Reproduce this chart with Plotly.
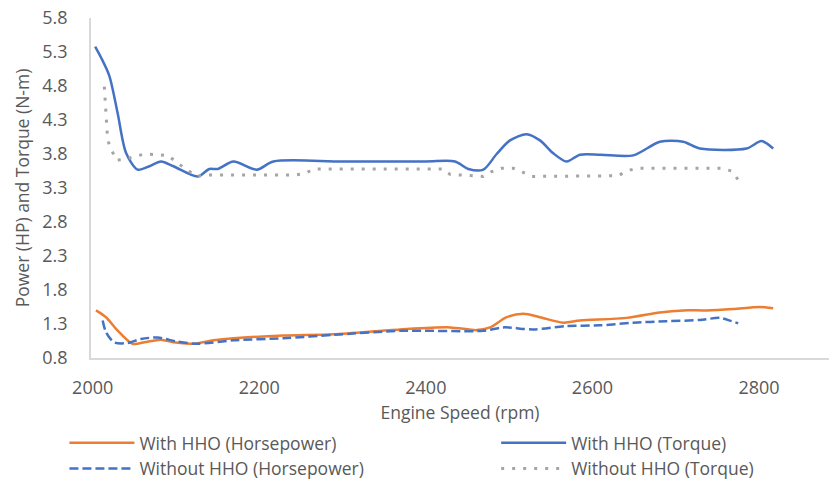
import plotly.graph_objects as go

# ---- data ----
rpm_hp_with = [2004, 2016, 2028, 2048, 2062, 2082, 2097, 2121, 2145, 2169, 2229, 2289, 2369,
               2429, 2461, 2477, 2497, 2517, 2537, 2565, 2585, 2641, 2681, 2709, 2737, 2769, 2801, 2817]
hp_with = [1.50, 1.40, 1.23, 1.01, 1.03, 1.07, 1.03, 1.01, 1.06, 1.09, 1.13, 1.15, 1.22,
           1.25, 1.21, 1.25, 1.40, 1.45, 1.40, 1.32, 1.35, 1.39, 1.47, 1.50, 1.50, 1.52, 1.55, 1.53]

rpm_tq_with = [2003, 2010, 2020, 2030, 2040, 2054, 2068, 2082, 2097, 2126, 2140, 2150, 2169, 2197,
               2217, 2300, 2400, 2435, 2451, 2469, 2485, 2501, 2521, 2537, 2553, 2569, 2585, 2610,
               2649, 2681, 2709, 2729, 2785, 2803, 2817]
tq_with = [5.38, 5.22, 4.95, 4.40, 3.82, 3.57, 3.62, 3.69, 3.62, 3.47, 3.58, 3.58, 3.69, 3.57,
           3.69, 3.69, 3.69, 3.69, 3.58, 3.57, 3.80, 4.00, 4.09, 4.00, 3.81, 3.69, 3.79, 3.79,
           3.78, 3.98, 3.98, 3.88, 3.88, 3.99, 3.88]

rpm_hp_without = [2012, 2016, 2026, 2042, 2058, 2078, 2102, 2126, 2169, 2229, 2289, 2369, 2469,
                  2493, 2529, 2569, 2609, 2649, 2689, 2729, 2753, 2765, 2775]
hp_without = [1.35, 1.18, 1.03, 1.02, 1.08, 1.10, 1.04, 1.01, 1.06, 1.09, 1.14, 1.20, 1.20,
              1.25, 1.22, 1.27, 1.28, 1.32, 1.34, 1.36, 1.39, 1.35, 1.31]

rpm_tq_without = [2014, 2016, 2018, 2028, 2038, 2062, 2090, 2105, 2125, 2137, 2241, 2255, 2265,
                  2421, 2429, 2469, 2479, 2491, 2505, 2515, 2527, 2631, 2641, 2653, 2755, 2767, 2775]
tq_without = [4.79, 4.45, 4.00, 3.71, 3.72, 3.80, 3.78, 3.64, 3.47, 3.49, 3.49, 3.51, 3.58,
              3.58, 3.50, 3.47, 3.54, 3.59, 3.59, 3.54, 3.47, 3.48, 3.55, 3.59, 3.59, 3.55, 3.42]

y_ticks = [0.8, 1.3, 1.8, 2.3, 2.8, 3.3, 3.8, 4.3, 4.8, 5.3, 5.8]
x_ticks = [2000, 2200, 2400, 2600, 2800]

ORANGE = "#ED7D31"
BLUE = "#4472C4"
GRAY = "#A5A5A5"
TXT = "#595959"
FONT = "Open Sans"

fig = go.Figure()
fig.add_trace(go.Scatter(x=rpm_hp_with, y=hp_with, mode="lines", name="With HHO (Horsepower)",
                         legend="legend",
                         line=dict(color=ORANGE, width=2.5, shape="spline", smoothing=0.8)))
fig.add_trace(go.Scatter(x=rpm_tq_with, y=tq_with, mode="lines", name="With HHO (Torque)",
                         legend="legend2",
                         line=dict(color=BLUE, width=2.5, shape="spline", smoothing=0.8)))
fig.add_trace(go.Scatter(x=rpm_hp_without, y=hp_without, mode="lines", name="Without HHO (Horsepower)",
                         legend="legend",
                         line=dict(color=BLUE, width=2.5, dash="9px,4px", shape="spline", smoothing=0.8)))
fig.add_trace(go.Scatter(x=rpm_tq_without, y=tq_without, mode="lines", name="Without HHO (Torque)",
                         legend="legend2",
                         line=dict(color=GRAY, width=3, dash="3px,8px")))

legend_common = dict(orientation="v", yanchor="top", xanchor="left", itemwidth=65,
                     font=dict(family=FONT, size=17.5, color=TXT), tracegroupgap=0,
                     bgcolor="rgba(0,0,0,0)")

fig.update_layout(
    width=830, height=483,
    margin=dict(l=91, r=1, t=18, b=125, autoexpand=False),
    paper_bgcolor="white", plot_bgcolor="white",
    font=dict(family=FONT, size=17, color=TXT),
    showlegend=True,
    legend=dict(x=-0.036, y=-0.197, **legend_common),
    legend2=dict(x=0.549, y=-0.197, **legend_common),
    xaxis=dict(range=[1998, 2884], tickvals=x_ticks, showgrid=False, zeroline=False,
               showline=True, linecolor="#D9D9D9", linewidth=1.5, ticks="",
               ticklabelstandoff=13, tickfont=dict(size=18),
               title=dict(text="Engine Speed (rpm)", standoff=8, font=dict(size=17.5, color=TXT))),
    yaxis=dict(range=[0.8, 5.8], tickvals=y_ticks, ticktext=[f"{v:.1f}" for v in y_ticks],
               showgrid=False, zeroline=False, showline=True, linecolor="#D9D9D9", linewidth=1.5,
               ticks="", ticklabelstandoff=18, tickfont=dict(size=18),
               title=dict(text="Power (HP) and Torque (N-m)", standoff=8, font=dict(size=17.5, color=TXT))),
)

fig.write_html("out.html")
